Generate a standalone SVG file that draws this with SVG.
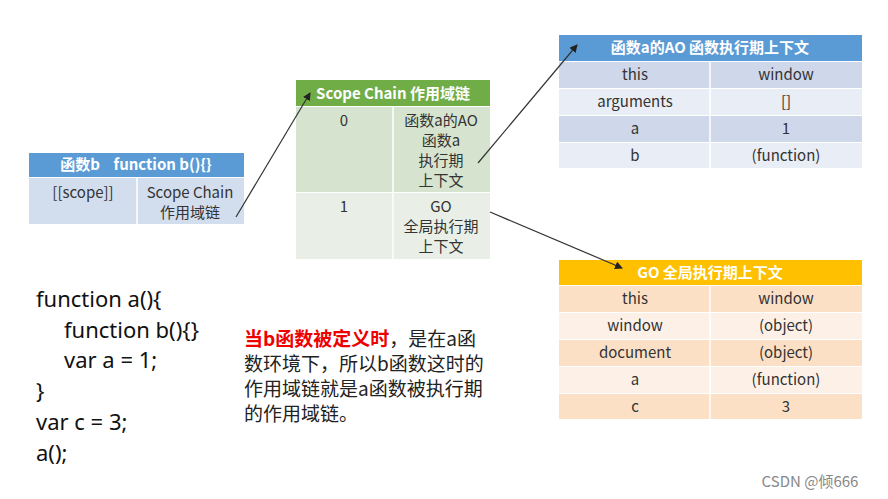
<svg xmlns="http://www.w3.org/2000/svg" width="888" height="499" viewBox="0 0 888 499">
<defs>
<marker id="ah" markerWidth="8" markerHeight="8" refX="7" refY="4" orient="auto" markerUnits="userSpaceOnUse"><path d="M0,0 L8,4 L0,8 z" fill="#222"/></marker>
<style>
text{font-family:"Noto Sans CJK SC","Noto Sans",sans-serif;fill:#333;font-size:15px;text-anchor:middle}
.h{fill:#fff;font-weight:bold}
.code{font-family:"Noto Sans","Noto Sans CJK SC",sans-serif;font-size:22px;text-anchor:start;fill:#111}
.note{font-size:19px;text-anchor:start;fill:#222}
.sep{stroke:#fff;stroke-width:1.5}
</style>
</defs>
<rect width="888" height="499" fill="#fff"/>
<g id="funcB">
<rect x="29" y="153" width="215" height="24" fill="#5b9bd5"/>
<text x="136" y="170" class="h" xml:space="preserve">函数b    function b(){}</text>
<rect x="29" y="178" width="215" height="46" fill="#d2ddee"/>
<line x1="137" y1="178" x2="137" y2="224" class="sep"/>
<text x="83" y="198">[[scope]]</text>
<text x="190" y="198">Scope Chain</text>
<text x="190" y="218">作用域链</text>
</g>
<g id="scopeChain">
<rect x="296" y="80" width="194" height="26" fill="#70ad47"/>
<text x="393" y="99" class="h">Scope Chain 作用域链</text>
<rect x="296" y="107" width="194" height="85" fill="#d5e3cf"/>
<rect x="296" y="193" width="194" height="66" fill="#e9efe6"/>
<line x1="393" y1="107" x2="393" y2="259" class="sep"/>
<text x="344" y="126">0</text>
<text x="441" y="126">函数a的AO</text>
<text x="441" y="146">函数a</text>
<text x="441" y="166">执行期</text>
<text x="441" y="186">上下文</text>
<text x="344" y="212">1</text>
<text x="441" y="212">GO</text>
<text x="441" y="232">全局执行期</text>
<text x="441" y="252">上下文</text>
</g>
<g id="aoTable">
<rect x="559" y="35" width="303" height="26" fill="#5b9bd5"/>
<text x="710" y="53" class="h">函数a的AO 函数执行期上下文</text>
<rect x="559" y="62" width="303" height="26" fill="#cfd8ea"/>
<rect x="559" y="89" width="303" height="26" fill="#e9edf5"/>
<rect x="559" y="116" width="303" height="26" fill="#cfd8ea"/>
<rect x="559" y="143" width="303" height="25" fill="#e9edf5"/>
<line x1="710" y1="62" x2="710" y2="168" class="sep"/>
<text x="635" y="80">this</text><text x="786" y="80">window</text>
<text x="635" y="107">arguments</text><text x="786" y="107">[]</text>
<text x="635" y="134">a</text><text x="786" y="134">1</text>
<text x="635" y="161">b</text><text x="786" y="161">(function)</text>
</g>
<g id="goTable">
<rect x="559" y="260" width="303" height="25" fill="#ffc000"/>
<text x="710" y="278" class="h">GO 全局执行期上下文</text>
<rect x="559" y="286" width="303" height="26" fill="#fbe0c6"/>
<rect x="559" y="313" width="303" height="26" fill="#fdf0e6"/>
<rect x="559" y="340" width="303" height="26" fill="#fbe0c6"/>
<rect x="559" y="367" width="303" height="26" fill="#fdf0e6"/>
<rect x="559" y="394" width="303" height="25" fill="#fbe0c6"/>
<line x1="710" y1="286" x2="710" y2="419" class="sep"/>
<text x="635" y="304">this</text><text x="786" y="304">window</text>
<text x="635" y="331">window</text><text x="786" y="331">(object)</text>
<text x="635" y="358">document</text><text x="786" y="358">(object)</text>
<text x="635" y="385">a</text><text x="786" y="385">(function)</text>
<text x="635" y="412">c</text><text x="786" y="412">3</text>
</g>
<g id="connectors" stroke="#333" stroke-width="1.2" fill="none">
<line x1="236" y1="217" x2="310" y2="93" marker-end="url(#ah)"/>
<line x1="478" y1="163" x2="577" y2="45" marker-end="url(#ah)"/>
<line x1="490" y1="212" x2="622" y2="268" marker-end="url(#ah)"/>
</g>
<g id="code">
<text class="code" x="36" y="307">function a(){</text>
<text class="code" x="64" y="338">function b(){}</text>
<text class="code" x="64" y="368">var a = 1;</text>
<text class="code" x="36" y="399">}</text>
<text class="code" x="36" y="430">var c = 3;</text>
<text class="code" x="36" y="461">a();</text>
</g>
<g id="note">
<text class="note" x="244" y="346"><tspan fill="#e00" font-weight="bold">当b函数被定义时</tspan>，是在a函</text>
<text class="note" x="244" y="371">数环境下，所以b函数这时的</text>
<text class="note" x="244" y="396">作用域链就是a函数被执行期</text>
<text class="note" x="244" y="421">的作用域链。</text>
</g>
<text x="810" y="487" style="font-size:15px;fill:#888">CSDN @倾666</text>
</svg>
